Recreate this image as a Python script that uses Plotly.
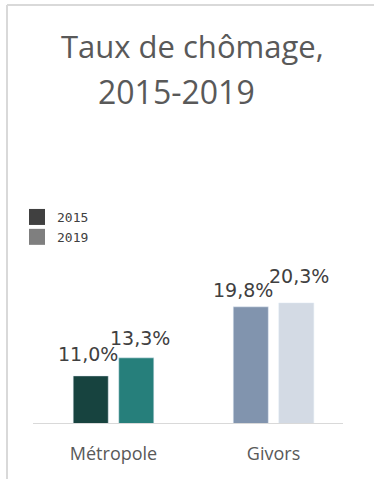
import plotly.graph_objects as go

categories = ["Métropole", "Givors"]
years = ["2015", "2019"]
values_2015 = [11.0, 19.8]
values_2019 = [13.3, 20.3]
title_lines = ["Taux de chômage,", "2015-2019"]

# styles
W, H_FIG = 374, 479
ML, MR, MT, MB = 33, 31, 150, 56
PW = W - ML - MR
PH = H_FIG - MT - MB
colors_2015 = ["#17433F", "#8194AE"]
colors_2019 = ["#267F7B", "#D3DAE4"]
legend_colors = ["#404040", "#7F7F7F"]

def px2x(px):
    return (px - ML) / PW

def py2y(py):
    return (H_FIG - MB - py) / PH

fmt = lambda v: f"{v:.1f}%".replace(".", ",")

xpos = list(range(len(categories)))
fig = go.Figure()
fig.add_trace(go.Bar(x=xpos, y=values_2015, marker_color=colors_2015, name=years[0],
                     showlegend=False, hoverinfo="skip"))
fig.add_trace(go.Bar(x=xpos, y=values_2019, marker_color=colors_2019, name=years[1],
                     showlegend=False, hoverinfo="skip"))
for yr, c in zip(years, legend_colors):
    fig.add_trace(go.Scatter(x=[None], y=[None], mode="markers", name=yr,
                             marker=dict(symbol="square", size=18, color=c)))

# data labels
half = 0.142
label_dx = [[-3, -7.5], [3.5, 2.5]]
label_dy = [[9, 4], [7, 14]]
for si, vals in enumerate([values_2015, values_2019]):
    off = -half if si == 0 else half
    for ci, v in enumerate(vals):
        fig.add_annotation(x=xpos[ci] + off, y=v, text=fmt(v), showarrow=False,
                           xanchor="center", yanchor="bottom",
                           xshift=label_dx[si][ci], yshift=label_dy[si][ci],
                           font=dict(family="DejaVu Sans", size=19, color="#404040"))

# title lines
fig.add_annotation(xref="paper", yref="paper", x=px2x(192), y=py2y(46), text=title_lines[0],
                   showarrow=False, xanchor="center", yanchor="middle",
                   font=dict(family="Open Sans", size=31, color="#595959"))
fig.add_annotation(xref="paper", yref="paper", x=px2x(176), y=py2y(91), text=title_lines[1],
                   showarrow=False, xanchor="center", yanchor="middle",
                   font=dict(family="Open Sans", size=32, color="#595959"))

# frame lines
fig.add_shape(type="line", xref="paper", yref="paper", x0=px2x(7), x1=px2x(374), y0=py2y(5), y1=py2y(5),
              line=dict(color="#D9D9D9", width=2))
fig.add_shape(type="line", xref="paper", yref="paper", x0=px2x(7), x1=px2x(7), y0=py2y(5), y1=py2y(479),
              line=dict(color="#D9D9D9", width=2))

fig.update_layout(
    width=W, height=H_FIG,
    margin=dict(l=ML, r=MR, t=MT, b=MB),
    paper_bgcolor="white", plot_bgcolor="white",
    barmode="group", bargap=0.431, bargroupgap=0.23,
    showlegend=True,
    legend=dict(x=px2x(17), y=py2y(202), xanchor="left", yanchor="top",
                font=dict(family="DejaVu Sans Mono", size=13, color="#404040"),
                bgcolor="rgba(0,0,0,0)"),
    xaxis=dict(range=[-0.503, 1.434], tickvals=xpos, ticktext=categories,
               showgrid=False, zeroline=False, showline=True, linecolor="#D9D9D9", linewidth=1,
               ticks="", ticklabelstandoff=14,
               tickfont=dict(family="Open Sans", size=18, color="#595959")),
    yaxis=dict(range=[5, 5 + PH / 7.85], visible=False, showgrid=False, zeroline=False),
)

fig.write_html("out.html", config={"displayModeBar": False})
